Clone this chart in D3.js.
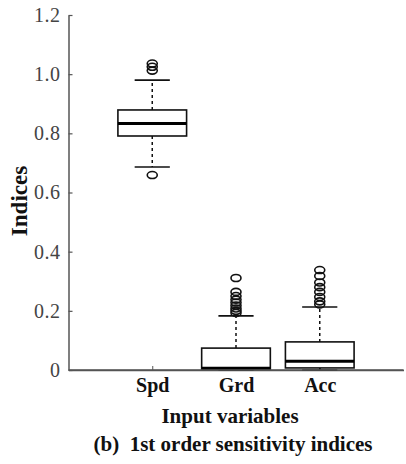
<!DOCTYPE html>
<html>
<head>
<meta charset="utf-8">
<script src="https://cdn.jsdelivr.net/npm/d3@7"></script>
<style>
  html, body { margin: 0; padding: 0; background: #fff; }
  svg { display: block; }
  svg text { font-family: "Liberation Serif", "Times New Roman", "DejaVu Serif", serif !important; }
</style>
</head>
<body>
<svg id="chart" width="406" height="464"></svg>
<script>
// ---- data ----
const categories = ["Spd", "Grd", "Acc"];
const q1 = [0.791, 0.003, 0.007];
const medians = [0.833, 0.006, 0.030];
const q3 = [0.879, 0.074, 0.095];
const whiskerLow = [0.686, 0.0, 0.0];
const whiskerHigh = [0.980, 0.183, 0.213];
const outliersSpd = [0.659, 1.012, 1.025, 1.036];
const outliersGrd = [0.311, 0.264, 0.250, 0.238, 0.228, 0.218, 0.208, 0.200, 0.193];
const outliersAcc = [0.338, 0.318, 0.296, 0.280, 0.264, 0.247, 0.232, 0.222];
const outliers = [outliersSpd, outliersGrd, outliersAcc];
const yTicks = [0, 0.2, 0.4, 0.6, 0.8, 1.0, 1.2];
const yTickLabels = ["0", "0.2", "0.4", "0.6", "0.8", "1.0", "1.2"];
const xLabel = "Input variables";
const yLabel = "Indices";
const caption = "(b)  1st order sensitivity indices";

// ---- layout ----
const svg = d3.select("#chart");
const x = d3.scaleLinear().domain([0, 4]).range([68.5, 403.5]);
const y = d3.scaleLinear().domain([0, 1.2]).range([370, 15]);
const boxW = 0.82;
const capW = 0.42;
const axisCol = "#555";

// y axis
const yAxis = d3.axisLeft(y).tickValues(yTicks)
  .tickFormat((d, i) => yTickLabels[i]).tickSizeInner(-4).tickSizeOuter(0).tickPadding(8);
const gy = svg.append("g").attr("transform", `translate(${x(0)},0)`).call(yAxis);
gy.select(".domain").attr("stroke", axisCol).attr("stroke-width", 1.5);
gy.selectAll(".tick line").attr("stroke", axisCol).attr("stroke-width", 1.2);
gy.selectAll(".tick text").attr("font-size", 20)
  .attr("fill", "#444").attr("letter-spacing", 0.5);

// x axis
const xAxis = d3.axisBottom(x).tickValues([1, 2, 3])
  .tickFormat((d, i) => categories[i]).tickSizeInner(-4).tickSizeOuter(0).tickPadding(8);
const gx = svg.append("g").attr("transform", `translate(0,${y(0)})`).call(xAxis);
gx.select(".domain").attr("stroke", axisCol).attr("stroke-width", 1.5);
gx.selectAll(".tick line").attr("stroke", axisCol).attr("stroke-width", 1);
gx.selectAll(".tick text").attr("font-size", 20)
  .attr("font-weight", "bold").attr("fill", "#111");

// boxes
const g = svg.append("g");
categories.forEach((c, i) => {
  const cx = i + 1;
  g.append("line").attr("x1", x(cx)).attr("x2", x(cx))
    .attr("y1", y(q3[i])).attr("y2", y(whiskerHigh[i]))
    .attr("stroke", "#111").attr("stroke-width", 1.5).attr("stroke-dasharray", "3,3");
  g.append("line").attr("x1", x(cx)).attr("x2", x(cx))
    .attr("y1", y(q1[i])).attr("y2", y(whiskerLow[i]))
    .attr("stroke", "#111").attr("stroke-width", 1.5).attr("stroke-dasharray", "3,3");
  [whiskerHigh[i], whiskerLow[i]].forEach(v => {
    g.append("line").attr("x1", x(cx - capW / 2)).attr("x2", x(cx + capW / 2))
      .attr("y1", y(v)).attr("y2", y(v)).attr("stroke", "#111").attr("stroke-width", 1.6);
  });
  g.append("rect").attr("x", x(cx - boxW / 2)).attr("width", x(cx + boxW / 2) - x(cx - boxW / 2))
    .attr("y", y(q3[i])).attr("height", y(q1[i]) - y(q3[i]))
    .attr("fill", "#fff").attr("stroke", "#111").attr("stroke-width", 1.6);
  g.append("line").attr("x1", x(cx - boxW / 2)).attr("x2", x(cx + boxW / 2))
    .attr("y1", y(medians[i])).attr("y2", y(medians[i]))
    .attr("stroke", "#000").attr("stroke-width", 3);
  g.selectAll(null).data(outliers[i]).enter().append("ellipse")
    .attr("cx", x(cx)).attr("cy", d => y(d)).attr("rx", 5).attr("ry", 3.5)
    .attr("fill", "none").attr("stroke", "#111").attr("stroke-width", 1.6);
});

svg.append("line").attr("x1", x(0)).attr("x2", x(4)).attr("y1", y(0)).attr("y2", y(0))
  .attr("stroke", axisCol).attr("stroke-width", 1.5);

// labels
svg.append("text").attr("x", 230).attr("y", 423).attr("text-anchor", "middle")
  .attr("font-size", 21).attr("font-weight", "bold").attr("fill", "#111")
  .text(xLabel);
svg.append("text").attr("x", 233).attr("y", 451).attr("text-anchor", "middle")
  .attr("font-size", 21).attr("font-weight", "bold").attr("fill", "#111")
  .style("white-space", "pre")
  .text(caption);
svg.append("text").attr("transform", "translate(27,201) rotate(-90)").attr("text-anchor", "middle")
  .attr("font-size", 23).attr("font-weight", "bold").attr("fill", "#111")
  .text(yLabel);
</script>
</body>
</html>
